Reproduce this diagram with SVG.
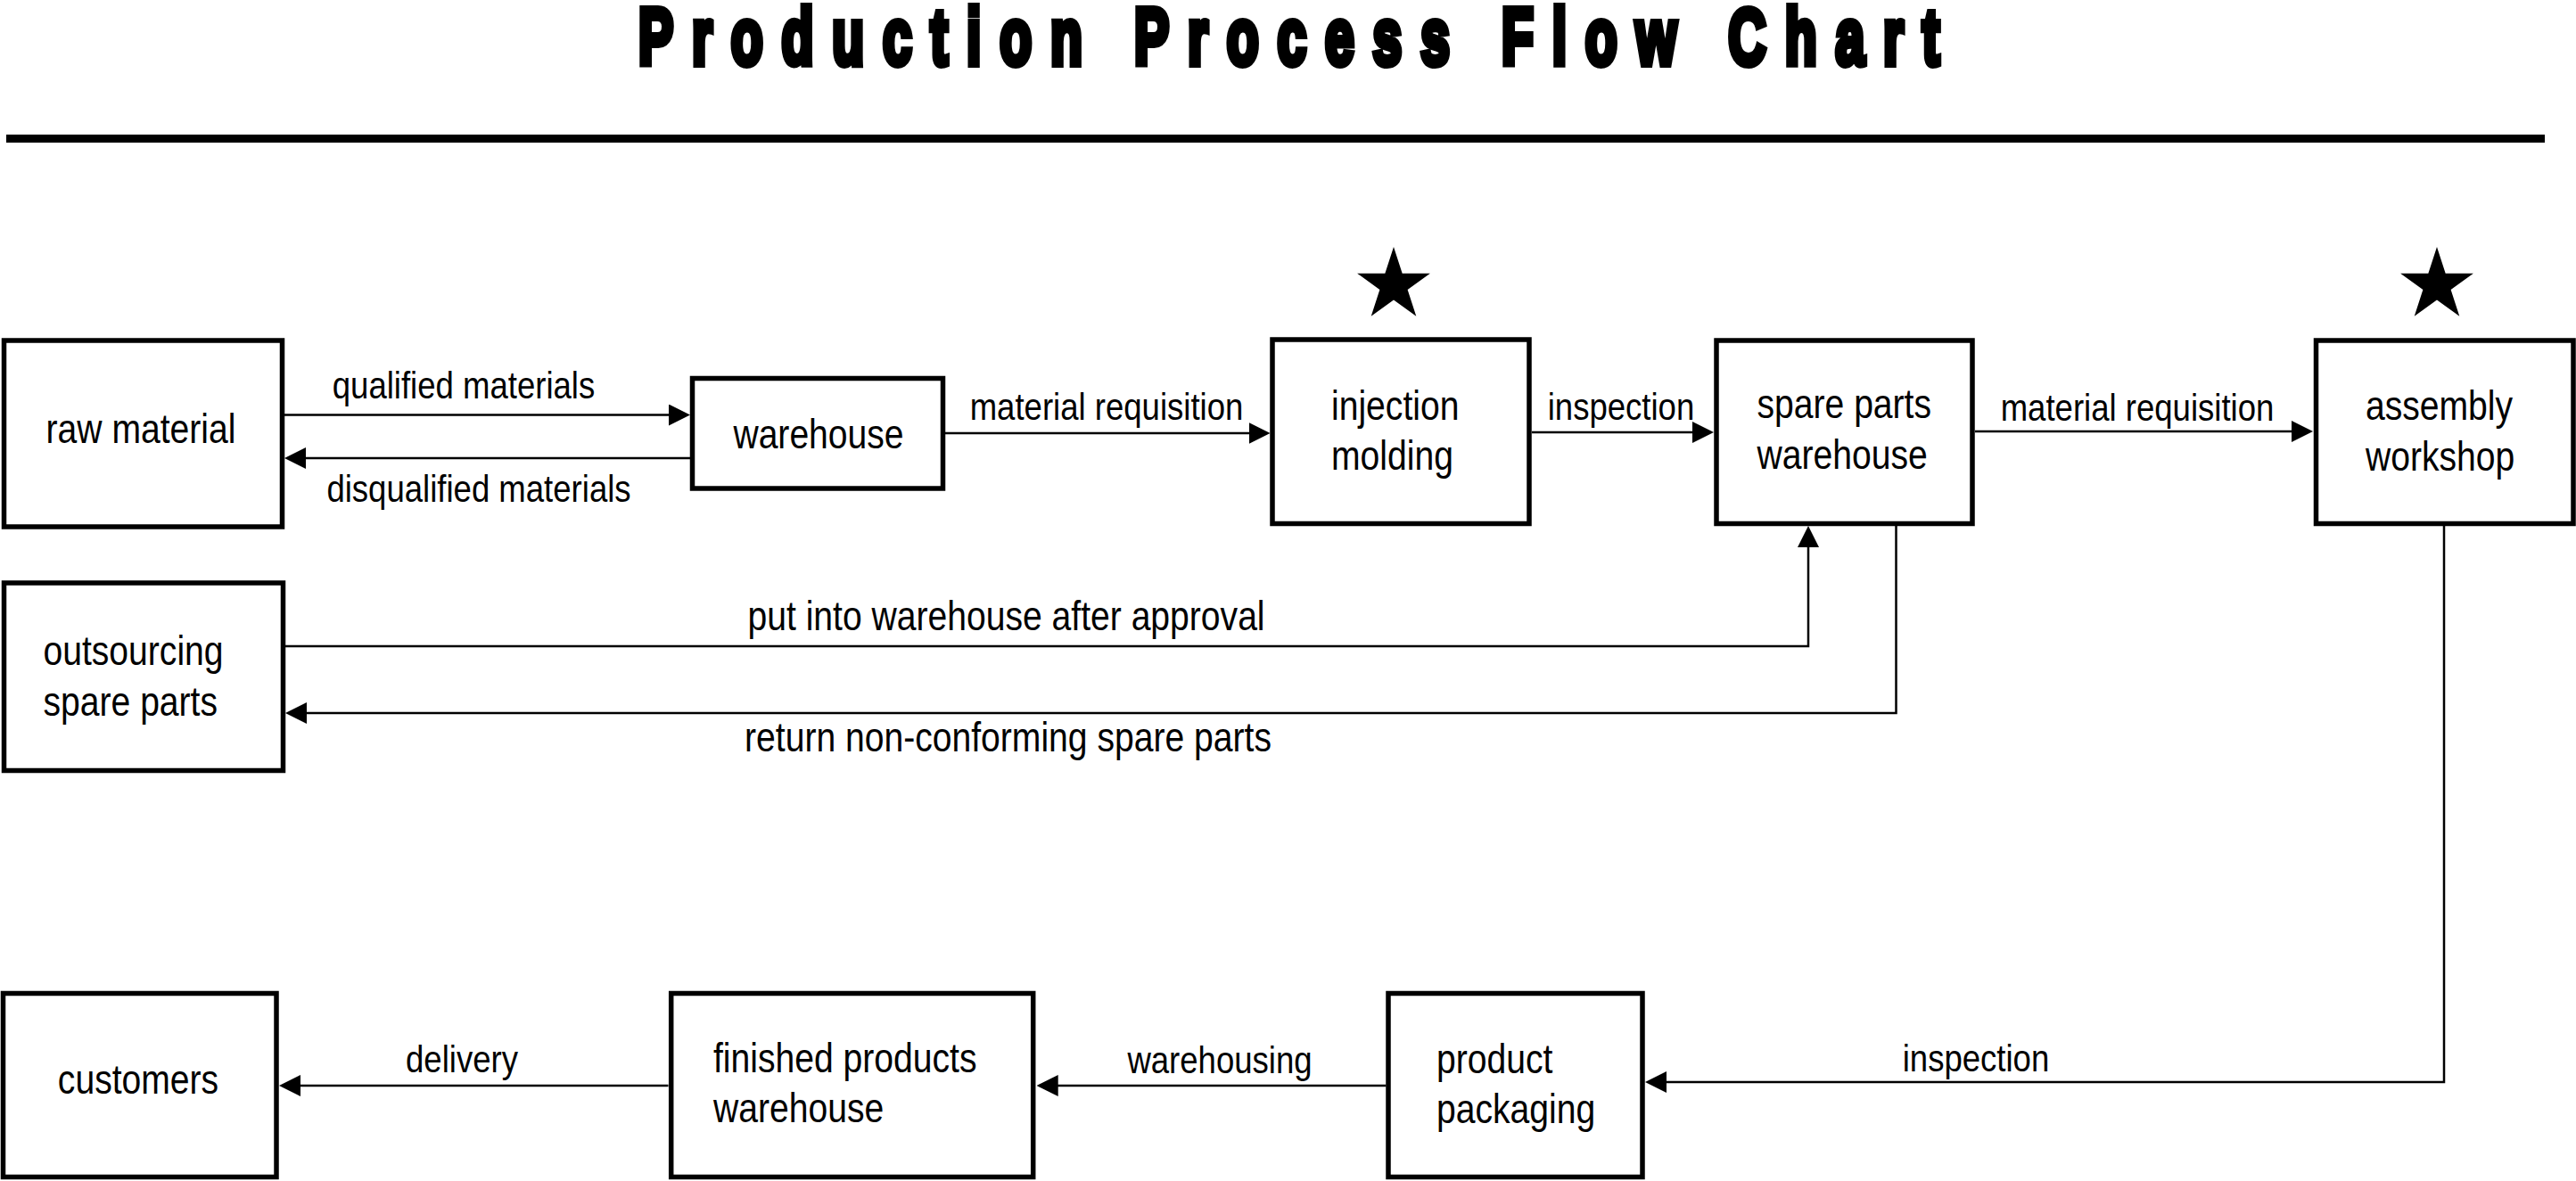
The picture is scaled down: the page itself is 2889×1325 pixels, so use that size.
<svg xmlns="http://www.w3.org/2000/svg" width="2889" height="1325" viewBox="0 0 2889 1325">
<style>
text{font-family:"Liberation Sans",Arial,sans-serif;fill:#000}
.node rect{fill:#fff;stroke:#000;stroke-width:5.5}
.nt{font-size:46px}
.lb{font-size:43px}
.lb2{font-size:46px}
.title{font-size:89px;font-weight:bold;stroke:#000;stroke-width:8;stroke-linejoin:miter}
#connectors path{fill:none;stroke:#000;stroke-width:2.5}
</style>
<defs>
<marker id="arr" markerUnits="userSpaceOnUse" markerWidth="24" markerHeight="24" refX="20" refY="12" orient="auto">
<path d="M0,0 L24,12 L0,24 Z" fill="#000"/>
</marker>
<path id="star" d="M0,-43 L9.66,-13.29 L40.9,-13.29 L15.63,5.08 L25.27,34.79 L0,16.43 L-25.27,34.79 L-15.63,5.08 L-40.9,-13.29 L-9.66,-13.29 Z" fill="#000"/>
</defs>
<rect width="2889" height="1325" fill="#fff"/>
<text class="title" transform="translate(716,72) scale(0.66,1)" x="0" y="0" textLength="2211" lengthAdjust="spacing">Production Process Flow Chart</text>
<line x1="7" y1="155.5" x2="2854" y2="155.5" stroke="#000" stroke-width="9"/>
<use href="#star" transform="translate(1563,320)"/>
<use href="#star" transform="translate(2733,320)"/>
<g id="connectors">
<path d="M319,465.5 H770" marker-end="url(#arr)"/>
<path d="M774,514 H323" marker-end="url(#arr)"/>
<path d="M1060,486 H1420.5" marker-end="url(#arr)"/>
<path d="M1718,485 H1918" marker-end="url(#arr)"/>
<path d="M2215,484 H2590" marker-end="url(#arr)"/>
<path d="M320,725 H2028 V594" marker-end="url(#arr)"/>
<path d="M2126.5,590 V800 H324" marker-end="url(#arr)"/>
<path d="M2741,590 V1214 H1849" marker-end="url(#arr)"/>
<path d="M1554.5,1218 H1166.7" marker-end="url(#arr)"/>
<path d="M749.5,1218 H317" marker-end="url(#arr)"/>
<text class="lb" text-anchor="middle" transform="translate(520,447) scale(0.85,1)">qualified materials</text>
<text class="lb" text-anchor="middle" transform="translate(537,563) scale(0.85,1)">disqualified materials</text>
<text class="lb" text-anchor="middle" transform="translate(1241,470.5) scale(0.85,1)">material requisition</text>
<text class="lb" text-anchor="middle" transform="translate(1818,470.7) scale(0.85,1)">inspection</text>
<text class="lb" text-anchor="middle" transform="translate(2397,472) scale(0.85,1)">material requisition</text>
<text class="lb2" text-anchor="middle" transform="translate(1128.5,707) scale(0.85,1)">put into warehouse after approval</text>
<text class="lb2" text-anchor="middle" transform="translate(1130.5,843) scale(0.85,1)">return non-conforming spare parts</text>
<text class="lb" text-anchor="middle" transform="translate(2216,1202) scale(0.85,1)">inspection</text>
<text class="lb" text-anchor="middle" transform="translate(1368,1204) scale(0.85,1)">warehousing</text>
<text class="lb" text-anchor="middle" transform="translate(518,1203) scale(0.85,1)">delivery</text>
</g>
<g id="raw-material" class="node">
<rect x="4.5" y="382" width="312" height="209"/>
<text class="nt" text-anchor="middle" transform="translate(158,496.7) scale(0.85,1)">raw material</text>
</g>
<g id="warehouse" class="node">
<rect x="776.5" y="424.5" width="281" height="123.5"/>
<text class="nt" text-anchor="middle" transform="translate(918,503) scale(0.85,1)">warehouse</text>
</g>
<g id="injection-molding" class="node">
<rect x="1427" y="381" width="288" height="206.5"/>
<text class="nt" transform="translate(1493,470.7) scale(0.85,1)">injection</text>
<text class="nt" transform="translate(1493,526.7) scale(0.85,1)">molding</text>
</g>
<g id="spare-parts-warehouse" class="node">
<rect x="1925" y="382" width="287" height="205.5"/>
<text class="nt" transform="translate(1970.5,469) scale(0.85,1)">spare parts</text>
<text class="nt" transform="translate(1970.5,526) scale(0.85,1)">warehouse</text>
</g>
<g id="assembly-workshop" class="node">
<rect x="2597.5" y="382" width="288.5" height="205.5"/>
<text class="nt" transform="translate(2653,470.5) scale(0.85,1)">assembly</text>
<text class="nt" transform="translate(2653,528) scale(0.85,1)">workshop</text>
</g>
<g id="outsourcing-spare-parts" class="node">
<rect x="4.5" y="654" width="313" height="210.5"/>
<text class="nt" transform="translate(48.5,746) scale(0.85,1)">outsourcing</text>
<text class="nt" transform="translate(48.5,803) scale(0.85,1)">spare parts</text>
</g>
<g id="customers" class="node">
<rect x="3.5" y="1114.5" width="306.5" height="206"/>
<text class="nt" text-anchor="middle" transform="translate(155,1227) scale(0.85,1)">customers</text>
</g>
<g id="finished-products-warehouse" class="node">
<rect x="752.7" y="1114.5" width="406" height="206"/>
<text class="nt" transform="translate(800,1203) scale(0.85,1)">finished products</text>
<text class="nt" transform="translate(800,1259) scale(0.85,1)">warehouse</text>
</g>
<g id="product-packaging" class="node">
<rect x="1557" y="1114.5" width="285" height="206"/>
<text class="nt" transform="translate(1611,1204) scale(0.85,1)">product</text>
<text class="nt" transform="translate(1611,1260) scale(0.85,1)">packaging</text>
</g>
</svg>
